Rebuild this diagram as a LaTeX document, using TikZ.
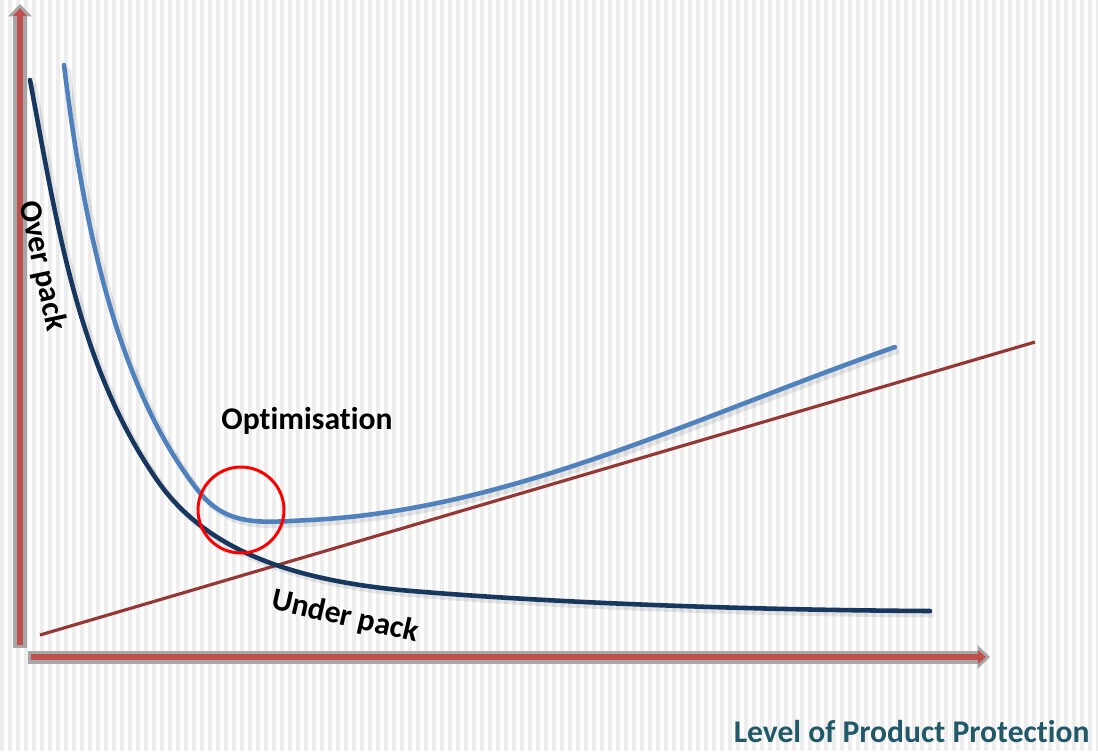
\documentclass[tikz,border=0pt]{standalone}
\usepackage{fontspec}
\setmainfont[Ligatures=NoCommon]{Carlito}
\usetikzlibrary{arrows.meta}

\definecolor{stripegray}{HTML}{EDEDED}
\definecolor{axisgray}{HTML}{A6A6A6}
\definecolor{axisred}{HTML}{C0504D}
\definecolor{navycurve}{HTML}{17375E}
\definecolor{bluecurve}{HTML}{4F81BD}
\definecolor{redline}{HTML}{953735}
\definecolor{tealtext}{HTML}{215968}

\begin{document}
\begin{tikzpicture}[
        x=0.02cm, y=-0.02cm,
        axisback/.style={draw=axisgray, line width=7.4pt, -{Triangle[length=7pt, width=13pt]}},
        axisfront/.style={draw=axisred, line width=3.8pt, -{Triangle[length=4.5pt, width=7.5pt]}},
        darkline/.style={draw=navycurve, line width=2.6pt, line cap=round},
        lightline/.style={draw=bluecurve, line width=2.6pt, line cap=round},
        shadow/.style={draw=black, opacity=0.09, line width=3.4pt, xshift=2pt, yshift=-2pt},
        every node/.style={font=\bfseries\fontsize{18}{20}\selectfont}
    ]
        \useasboundingbox (0,0) rectangle (1098,751);
        \fill[white] (0,0) rectangle (1098,751);
        \foreach \x in {0,8,...,1096}
            \fill[stripegray] (\x,0) rectangle (\x+4,751);

        \draw[axisback] (20,648) -- (20,4);
        \draw[axisfront] (20,645) -- (20,8);
        \draw[axisback] (28,657) -- (990,657);
        \draw[axisfront] (31,657) -- (986,657);

        \draw[redline, line width=1.8pt] (40,635) -- (1035,342);

        \foreach \sty in {shadow, darkline}
            \draw[\sty] (30,80) .. controls (56,218) and (77,365) .. (157,480)
                .. controls (208,554) and (300,580) .. (400,590)
                .. controls (550,603) and (750,610) .. (930,611);

        \foreach \sty in {shadow, lightline}
            \draw[\sty] (64,65) .. controls (81,204) and (112,383) .. (200,493)
                .. controls (229,528) and (265,522) .. (310,520)
                .. controls (510,510) and (695,417) .. (895,347);

        \draw[red, line width=1.7pt] (241,510) circle [radius=0.86cm];

        \node (over) [rotate=-78] at (42,266) {Over pack};
        \node (optim) at (307,421) {Optimisation};
        \node (under) [rotate=-13] at (345,617) {Under pack};
        \node (level) [text=tealtext, anchor=east, inner sep=0pt] at (1090,732) {Level of Product Protection};
    \end{tikzpicture}
\end{document}
